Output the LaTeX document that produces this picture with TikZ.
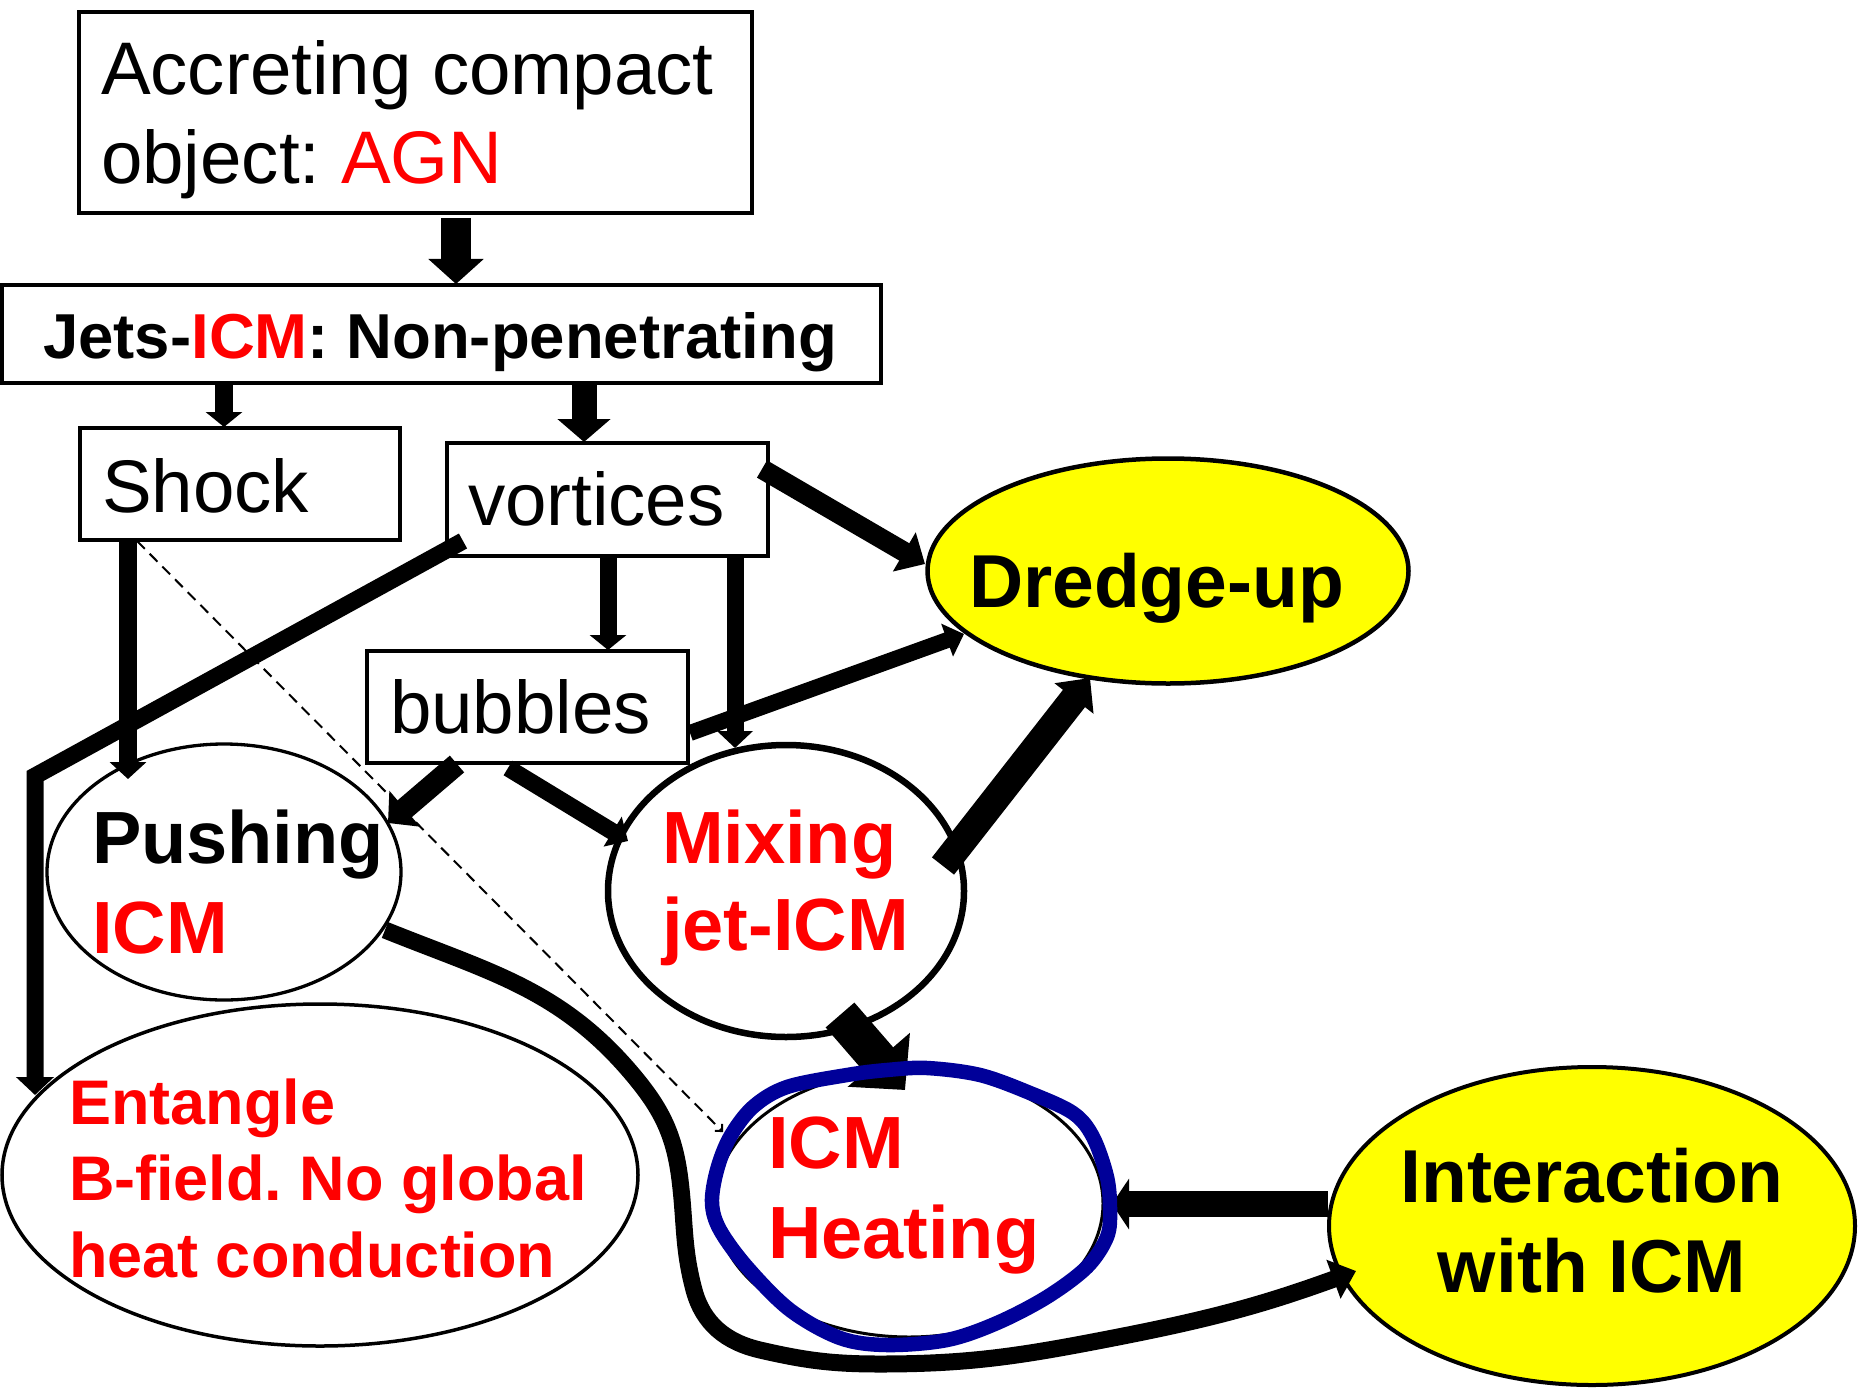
\documentclass[tikz,border=0pt]{standalone}
\usepackage{fontspec}
\setmainfont{Liberation Sans}
\usetikzlibrary{arrows.meta,shapes.geometric}
\definecolor{hotred}{HTML}{FF0000}
\definecolor{sun}{HTML}{FFFF00}
\definecolor{heatblue}{HTML}{000099}
\frenchspacing
\begin{document}
\begin{tikzpicture}[x=1pt,y=-1pt,
  box/.style={draw,line width=4pt,fill=white,inner sep=0pt,outer sep=0pt},
  oval/.style={draw,ellipse,fill=white,inner sep=0pt,outer sep=0pt},
  lbl/.style={inner sep=0pt,outer sep=0pt,anchor=base west},
  clbl/.style={inner sep=0pt,outer sep=0pt,anchor=base},
  regf/.style={font=\fontsize{74.5}{89}\selectfont},
  boldf/.style={font=\fontsize{75}{90}\selectfont\bfseries},
  redb/.style={font=\fontsize{74}{89}\selectfont\bfseries,text=hotred},
  blockarrow/.style n args={3}{line width=#1,-{Triangle[width=#2,length=#3]}},
]
\useasboundingbox (0,0) rectangle (1859,1388);

% ---------- shapes ----------
\node[box,minimum width=673pt,minimum height=201pt] (agn) at (415.5,112.5) {};
\node[box,minimum width=879pt,minimum height=98pt] (jets) at (441.5,334) {};
\node[box,minimum width=320pt,minimum height=112pt] (shock) at (240,484) {};
\node[box,minimum width=321pt,minimum height=113pt] (vort) at (607.5,499.5) {};
\node[box,minimum width=321pt,minimum height=112pt] (bubb) at (527.5,707) {};
\node[oval,fill=sun,line width=4.5pt,minimum width=481pt,minimum height=225pt] (dredge) at (1168,571) {};
\node[oval,line width=3.3pt,minimum width=354pt,minimum height=256pt] (push) at (224,872) {};
\node[oval,line width=6.5pt,minimum width=356pt,minimum height=292pt] (mix) at (786,891) {};
\node[oval,line width=3.5pt,minimum width=636pt,minimum height=342pt] (ent) at (320,1175) {};
\node[oval,line width=3pt,minimum width=388pt,minimum height=267pt] (heat) at (909,1203.5) {};
\node[oval,fill=sun,line width=4pt,minimum width=526pt,minimum height=318pt] (inter) at (1592,1226) {};

% ---------- texts ----------
\node[lbl,regf] (agnA) at (101,95) {Accreting compact};
\node[lbl,regf] (agnB) at (101,184) {object: \textcolor{hotred}{AGN}};
\node[clbl,font=\fontsize{63.5}{75}\selectfont\bfseries] (jetsT) at (440,358) {Jets-\textcolor{hotred}{ICM}: Non-penetrating};
\node[lbl,regf] (shockT) at (102,512) {Shock};
\node[lbl,regf] (vortT) at (468,525) {vortices};
\node[lbl,regf] (bubbT) at (390,733) {bubbles};
\node[lbl,boldf] (dredgeT) at (969,607) {Dredge-up};
\node[lbl,font=\fontsize{74}{89}\selectfont\bfseries] (pushA) at (92,863) {Pushing};
\node[lbl,redb] (pushB) at (92,953) {ICM};
\node[lbl,redb] (mixA) at (662,863) {Mixing};
\node[lbl,redb] (mixB) at (662,950) {jet-ICM};
\node[lbl,redb,font=\fontsize{63}{77}\selectfont\bfseries] (entA) at (69,1124) {Entangle};
\node[lbl,redb,font=\fontsize{63}{77}\selectfont\bfseries] (entB) at (69,1200) {B-field. No global};
\node[lbl,redb,font=\fontsize{63}{77}\selectfont\bfseries] (entC) at (69,1277) {heat conduction};
\node[lbl,redb] (heatA) at (768,1168) {ICM};
\node[lbl,redb] (heatB) at (768,1258) {Heating};
\node[clbl,boldf] (interA) at (1592,1202) {Interaction};
\node[clbl,boldf] (interB) at (1592,1292) {with ICM};

% ---------- connector end points ----------
\coordinate (aS) at (456,218);   \coordinate (aE) at (456,284);
\coordinate (bS) at (224,383);   \coordinate (bE) at (224,427);
\coordinate (cS) at (584,383);   \coordinate (cE) at (584,442);
\coordinate (dS) at (762,469);   \coordinate (dE) at (925,564);
\coordinate (eS) at (608,556);   \coordinate (eE) at (608,650);
\coordinate (fS) at (735,556);   \coordinate (fE) at (735,748);
\coordinate (gS) at (690,733);   \coordinate (gE) at (964,634);
\coordinate (hS) at (943,866);   \coordinate (hE) at (1090,678);
\coordinate (iS) at (840,1015);  \coordinate (iE) at (905,1090);
\coordinate (jS) at (1328,1204); \coordinate (jE) at (1112,1204);
\coordinate (lS) at (128,540);   \coordinate (lE) at (128,779);
\coordinate (mS) at (463,541);   \coordinate (mK) at (35,776); \coordinate (mE) at (35,1095);
\coordinate (oS) at (457,764);   \coordinate (oE) at (388,823);
\coordinate (pS) at (508,768);   \coordinate (pE) at (628,841);
\coordinate (qS) at (137,541);   \coordinate (qE) at (723,1132);
\coordinate (kS) at (385,930);   \coordinate (kE) at (1356,1271);

% ---------- connectors ----------
\draw[line width=2pt,dash pattern=on 11pt off 7pt,-{Straight Barb[length=5pt,width=10pt]}] (qS) -- (qE);
\draw[blockarrow={30pt}{54pt}{25pt}] (aS) -- (aE);
\draw[blockarrow={18pt}{36pt}{15pt}] (bS) -- (bE);
\draw[blockarrow={25pt}{52pt}{23pt}] (cS) -- (cE);
\draw[blockarrow={20pt}{44pt}{24pt}] (dS) -- (dE);
\draw[blockarrow={17pt}{36pt}{15pt}] (eS) -- (eE);
\draw[blockarrow={17pt}{35pt}{17pt}] (fS) -- (fE);
\draw[blockarrow={16pt}{34pt}{18pt}] (gS) -- (gE);
\draw[blockarrow={28pt}{48pt}{26pt}] (hS) -- (hE);
\draw[blockarrow={38pt}{80pt}{40pt}] (iS) -- (iE);
\draw[blockarrow={26pt}{50pt}{17pt}] (jS) -- (jE);
\draw[blockarrow={18pt}{36pt}{17pt}] (lS) -- (lE);
\draw[blockarrow={17pt}{37pt}{18pt}] (mS) -- (mK) -- (mE);
\draw[blockarrow={22pt}{46pt}{22pt}] (oS) -- (oE);
\draw[blockarrow={17pt}{34pt}{18pt}] (pS) -- (pE);

% long curve from Pushing ICM to Interaction with ICM
\draw[line width=17pt,-{Triangle[width=40pt,length=24pt]}]
  (kS) to[out=-22,in=130] (633,1075)
       to[out=-50,in=97] (680,1180)
       to[out=-83,in=105] (694,1290)
       to[out=-75,in=167] (760,1350)
       to[out=-13,in=180] (880,1364)
       to[out=0,in=191] (1113,1338)
       to[out=11,in=200] (kE);

% blue hand-drawn outline of ICM Heating
\draw[heatblue,line width=14.5pt]
  plot[smooth cycle,tension=0.55] coordinates {(927,1068) (980,1075) (1030,1093) (1073,1113) (1093,1137) (1107,1177) (1110,1210) (1107,1237) (1087,1267) (1047,1297) (997,1323) (947,1340) (887,1345) (840,1338) (790,1310) (747,1267) (720,1230) (712,1203) (717,1170) (730,1137) (753,1107) (787,1087) (847,1075) (887,1070)};
\end{tikzpicture}
\end{document}
